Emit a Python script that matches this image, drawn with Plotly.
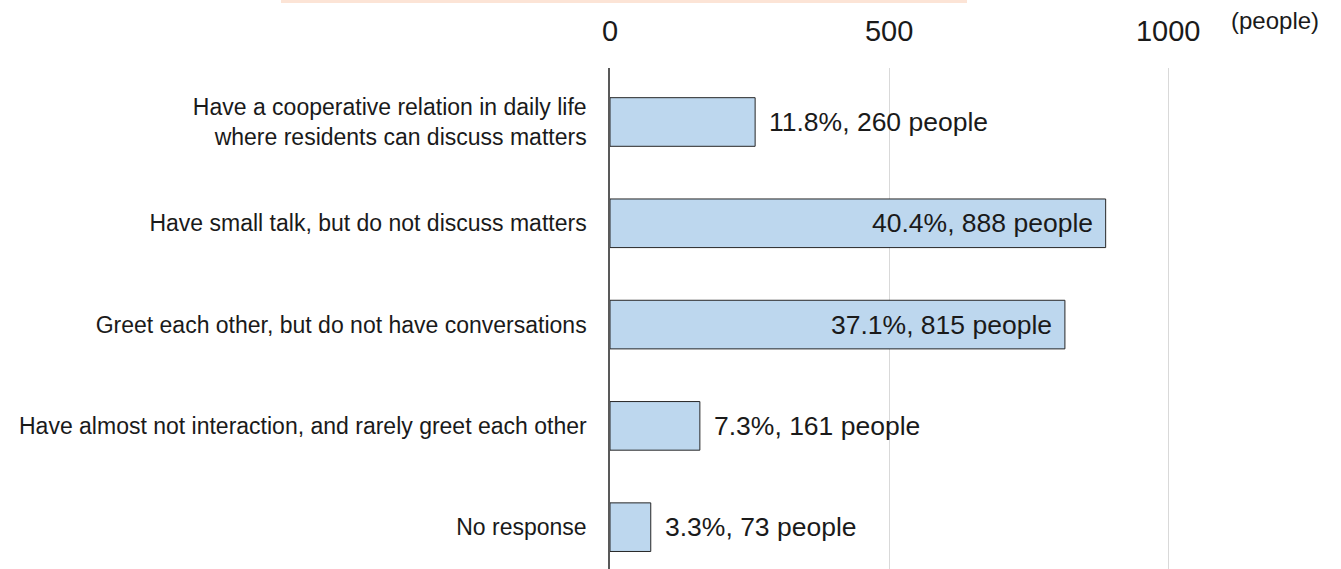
import plotly.graph_objects as go

categories = [
    "Have a cooperative relation in daily life<br>where residents can discuss matters",
    "Have small talk, but do not discuss matters",
    "Greet each other, but do not have conversations",
    "Have almost not interaction, and rarely greet each other",
    "No response",
]
people = [260, 888, 815, 161, 73]
percents = [11.8, 40.4, 37.1, 7.3, 3.3]
label_inside = [False, True, True, False, False]
x_ticks = [0, 500, 1000]

FONT = "Liberation Sans, Arial, sans-serif"
ypos = list(range(len(categories)))

fig = go.Figure()
fig.add_trace(go.Bar(
    x=people, y=ypos, orientation="h", width=0.48,
    marker=dict(color="#bdd7ee", line=dict(color="#262626", width=1)),
    hoverinfo="skip",
))

for i, (v, p, ins) in enumerate(zip(people, percents, label_inside)):
    fig.add_annotation(
        x=v, y=i, xref="x", yref="y",
        text=f"{p}%, {v} people", showarrow=False,
        xanchor="right" if ins else "left",
        xshift=-11 if ins else 12,
        font=dict(family=FONT, size=26.5, color="#1a1a1a"),
    )

fig.add_annotation(
    x=(1275 - 610) / 614, y=(569 - 21) / 501, xref="paper", yref="paper",
    xanchor="center", yanchor="middle",
    text="(people)", showarrow=False,
    font=dict(family=FONT, size=24, color="#1a1a1a"),
)

fig.add_shape(
    type="rect", xref="paper", yref="paper",
    x0=(281 - 610) / 614, x1=(967 - 610) / 614,
    y0=(569 - 3) / 501, y1=(569 - 0) / 501,
    fillcolor="#fce4d6", line=dict(width=0), layer="above",
)

fig.update_layout(
    width=1341, height=569,
    margin=dict(l=610, r=117, t=68, b=0),
    plot_bgcolor="white", paper_bgcolor="white",
    showlegend=False,
    xaxis=dict(
        side="top", range=[0, 1100], tickvals=x_ticks,
        ticktext=[str(t) for t in x_ticks],
        showgrid=True, gridcolor="#d9d9d9", gridwidth=1,
        zeroline=False, showline=False, ticks="",
        tickfont=dict(family=FONT, size=29, color="#1a1a1a"),
        ticklabelstandoff=20,
    ),
    yaxis=dict(
        range=[4.413, -0.533], tickvals=ypos, ticktext=categories,
        showgrid=False, zeroline=False,
        showline=True, linecolor="#595959", linewidth=1.5,
        ticks="", ticklabelstandoff=17,
        tickfont=dict(family=FONT, size=23, color="#1a1a1a"),
    ),
)

fig.write_html("out.html", config={"displayModeBar": False},
               post_script="document.body.style.margin='0';")
